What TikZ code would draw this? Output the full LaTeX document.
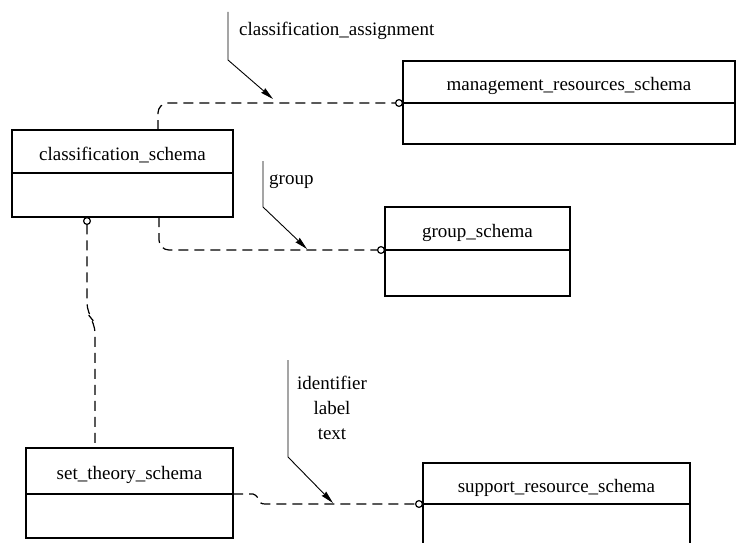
\documentclass[tikz,border=0pt]{standalone}
\usepackage{fontspec}
\setmainfont{Liberation Serif}
\usetikzlibrary{positioning,arrows.meta}

\begin{document}
\begin{tikzpicture}[x=1pt,y=-1pt]
                        \tikzstyle{head}=[draw,line width=2.3pt,outer sep=0pt,inner sep=0pt,minimum height=43pt,text height=21pt,text depth=4pt,anchor=north west,font=\fontsize{19}{23}\selectfont]
                        \tikzstyle{body}=[draw,line width=2.3pt,outer sep=0pt,inner sep=0pt,minimum height=44pt]
                        \tikzstyle{link}=[dashed,dash pattern=on 10pt off 6pt,line width=1.2pt,rounded corners=10pt]
                        \tikzstyle{lead}=[line width=0.9pt,-{Stealth[length=13pt,width=6pt,inset=1pt]}]
                        \tikzstyle{lbl}=[inner sep=0pt,font=\fontsize{19}{25}\selectfont]
                        \useasboundingbox (0,0) rectangle (736,543);
                        \node[head,minimum width=221pt] (cls) at (12,130) {classification\_schema};
                        \node[body,minimum width=221pt,below=0pt of cls] (clsb) {};
                        \node[head,minimum width=332pt,minimum height=42pt] (mgmt) at (403,61) {management\_resources\_schema};
                        \node[body,minimum width=332pt,minimum height=41pt,below=0pt of mgmt] (mgmtb) {};
                        \node[head,minimum width=185pt] (grp) at (385,207) {group\_schema};
                        \node[body,minimum width=185pt,minimum height=46pt,below=0pt of grp] (grpb) {};
                        \node[head,minimum width=207pt,minimum height=46pt] (set) at (26,448) {set\_theory\_schema};
                        \node[body,minimum width=207pt,below=0pt of set] (setb) {};
                        \node[head,minimum width=267pt,minimum height=41pt] (sup) at (423,463) {support\_resource\_schema};
                        \node[body,minimum width=267pt,below=0pt of sup] (supb) {};
                        \draw[link,-{Circle[open,length=8pt]}] ([xshift=146pt]cls.north west) |- (mgmt.south west);
                        \draw[link,-{Circle[open,length=8pt]}] ([xshift=147pt]clsb.south west) |- (grp.south west);
                        \draw[link,{Circle[open,length=8pt]}-] ([xshift=75pt]clsb.south west) -- ++(0,96) -- ++(8,10) -- ([xshift=69pt]set.north west);
                        \draw[link,sharp corners,dash pattern=on 6pt off 4pt,-{Circle[open,length=8pt]}] (setb.north east) -- ++(20,0) to[out=-20,in=180,looseness=1.4] ++(12,10) [dash pattern=on 10pt off 6pt] -- (supb.north west);
                        \coordinate (ca) at (228,12);
                        \coordinate (gr) at (263,161);
                        \coordinate (it) at (288,360);
                        \draw[lead] (ca) -- ++(0,48) -- ++(45,39);
                        \draw[lead] (gr) -- ++(0,46) -- ++(44,42);
                        \draw[lead] (it) -- ++(0,97) -- ++(45,46);
                        \node[lbl,anchor=west] (catxt) at (239,31) {classification\_assignment};
                        \node[lbl,anchor=west] (grtxt) at (269,182) {group};
                        \node[lbl,align=center] (ittxt) at (332,408) {identifier\\label\\text};
                    \end{tikzpicture}
\end{document}
